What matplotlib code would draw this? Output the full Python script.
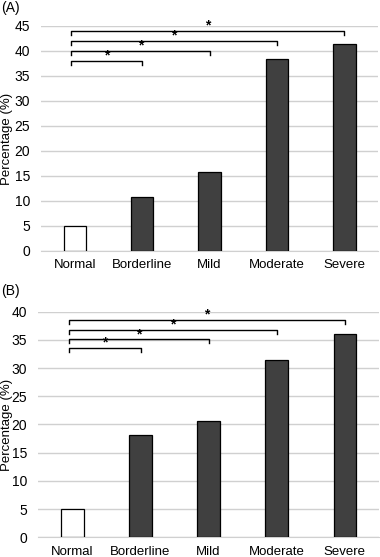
import matplotlib
matplotlib.use("Agg")
import matplotlib.pyplot as plt
from matplotlib.transforms import blended_transform_factory

plt.rcParams["font.family"] = ["Liberation Sans", "DejaVu Sans"]

categories = ["Normal", "Borderline", "Mild", "Moderate", "Severe"]
pct_a = [4.9, 10.7, 15.8, 38.4, 41.4]
pct_b = [5.0, 18.1, 20.6, 31.4, 36.0]
# significance brackets: (target category index, bracket height)
sig_a = [(1, 37.9), (2, 39.9), (3, 41.9), (4, 43.9)]
sig_b = [(1, 33.6), (2, 35.1), (3, 36.8), (4, 38.5)]
yticks_a = list(range(0, 50, 5))
yticks_b = list(range(0, 45, 5))

fig = plt.figure(figsize=(3.8, 5.57), dpi=100)
ax_a = fig.add_axes([0.108, 0.5494, 0.887, 0.404])
ax_b = fig.add_axes([0.101, 0.0354, 0.896, 0.405])


def panel(ax, vals, sigs, yticks, tick_h):
    x = range(len(categories))
    colors = ["white"] + ["#404040"] * (len(vals) - 1)
    ax.bar(x, vals, width=0.33, color=colors, edgecolor="black", linewidth=0.9, zorder=3)
    ax.set_xlim(-0.5, len(vals) - 0.5)
    ax.set_ylim(yticks[0], yticks[-1])
    ax.set_yticks(yticks)
    ax.set_xticks(list(x))
    ax.set_xticklabels(categories)
    ax.tick_params(axis="y", length=0, pad=8, labelsize=10)
    ax.tick_params(axis="x", length=0, pad=6, labelsize=9.5)
    ax.grid(axis="y", color="#d0d0d0", linewidth=1.0, zorder=0)
    ax.set_axisbelow(True)
    for s in ["top", "right", "left"]:
        ax.spines[s].set_visible(False)
    ax.spines["bottom"].set_color("#d0d0d0")
    ax.set_ylabel("Percentage (%)", fontsize=9.5)
    ax.yaxis.set_label_coords(0.034, 0.5,
                              transform=blended_transform_factory(fig.transFigure, ax.transAxes))
    for j, h in sigs:
        x0, x1 = -0.05, j
        ax.plot([x0, x0, x1, x1], [h - tick_h, h, h, h - tick_h], color="black",
                linewidth=1.0, zorder=4, clip_on=False)
        ax.text((x0 + x1) / 2, h - 0.3, "*", ha="center", va="bottom", fontsize=10,
                fontweight="bold", zorder=4)


panel(ax_a, pct_a, sig_a, yticks_a, 0.8)
panel(ax_b, pct_b, sig_b, yticks_b, 0.7)

fig.text(0.002, 0.998, "(A)", ha="left", va="top", fontsize=10)
fig.text(0.002, 0.49, "(B)", ha="left", va="top", fontsize=10)

fig.savefig("out.png", dpi=100)
